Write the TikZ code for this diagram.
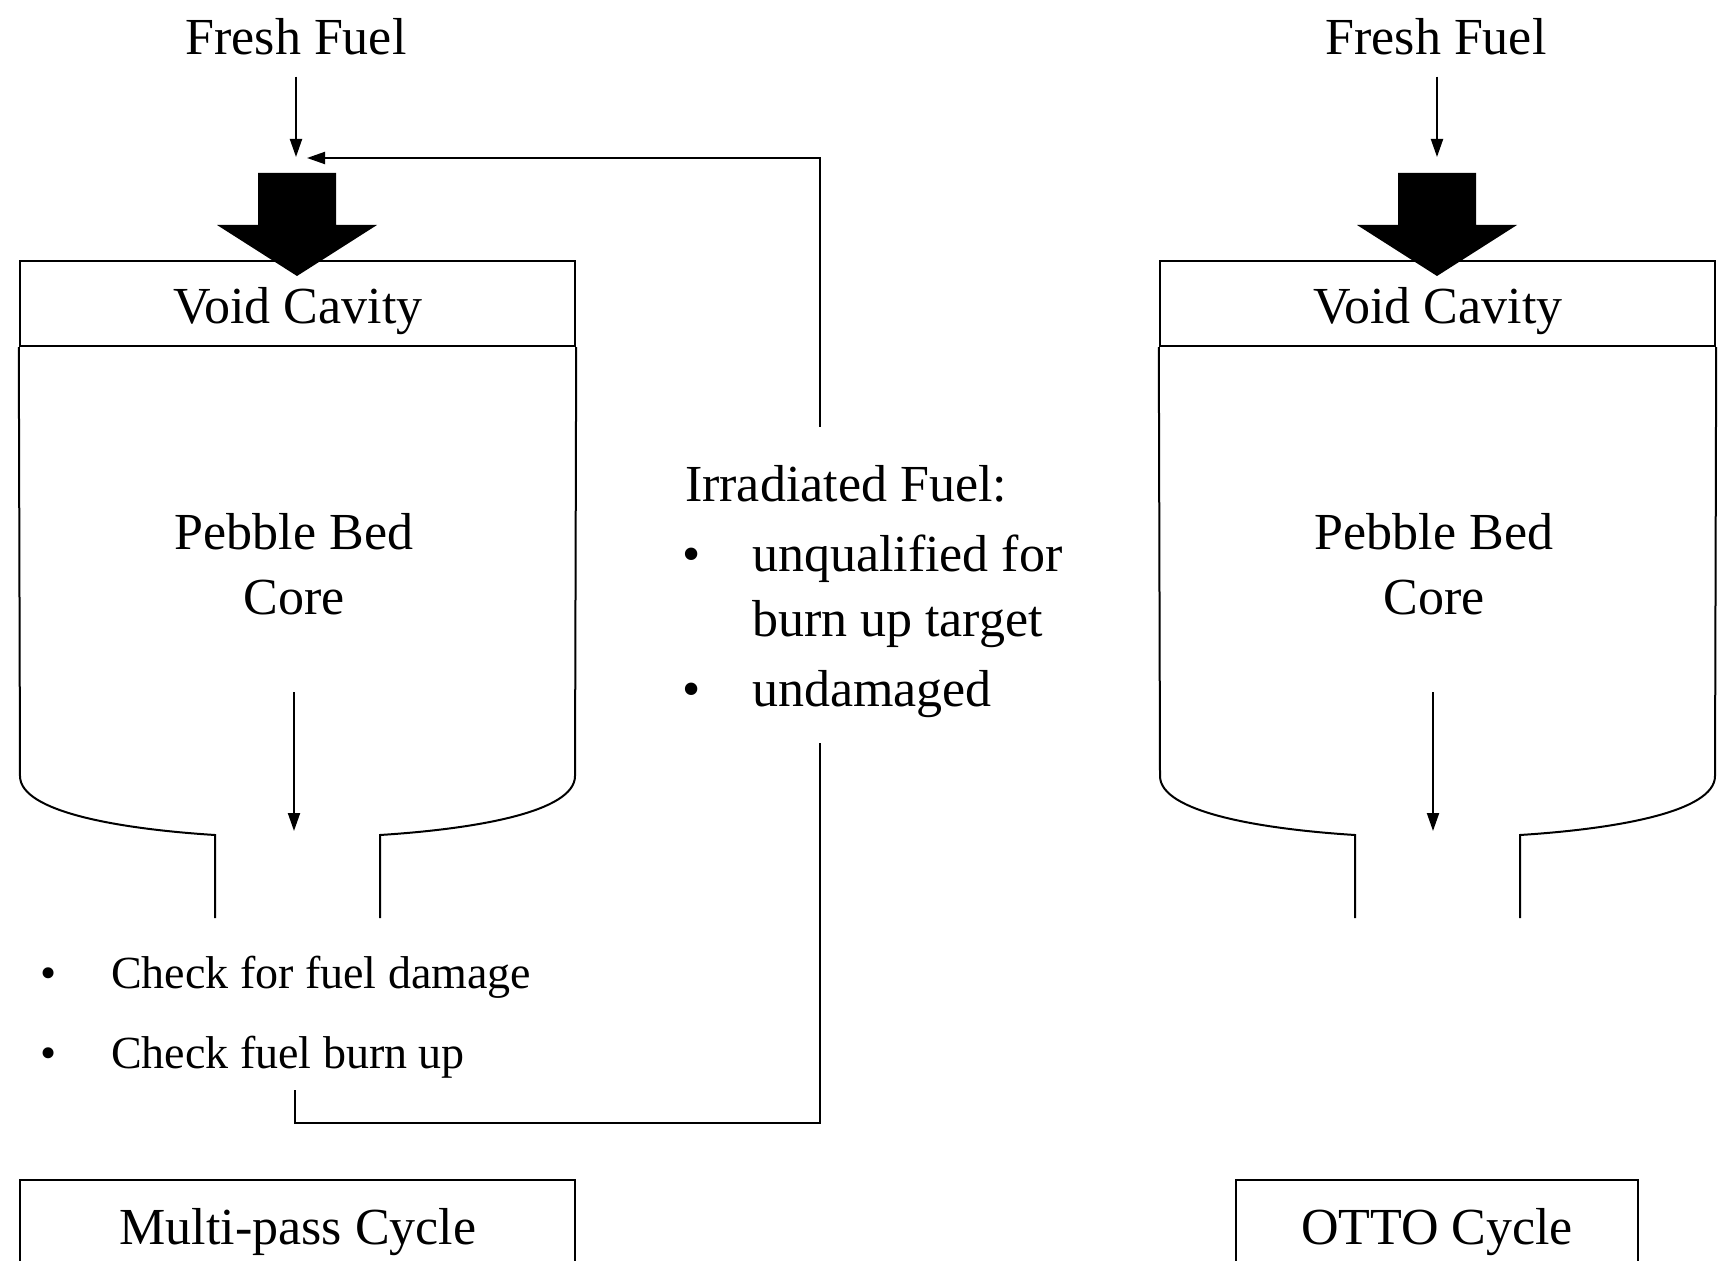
\documentclass[tikz,border=0pt]{standalone}
\usepackage{fontspec}
\setmainfont{Liberation Serif}
\usetikzlibrary{arrows.meta}
\begin{document}
\begin{tikzpicture}[x=0.5pt,y=-0.5pt, line width=1pt,
  lbl/.style={font=\fontsize{26}{30}\selectfont, inner sep=0pt, anchor=base},
  lblw/.style={font=\fontsize{26}{30}\selectfont, inner sep=0pt, anchor=base west},
  smallw/.style={font=\fontsize{23}{28}\selectfont, inner sep=0pt, anchor=base west},
  smallc/.style={font=\fontsize{23}{28}\selectfont, inner sep=0pt, anchor=base},
  arr/.style={-{Triangle[length=9pt,width=6pt]}},
  bigarrow/.style={fill=black, draw=none}]
\clip (0,0) rectangle (1718,1261);
\fill[white] (0,0) rectangle (1718,1261);

% ---------- Left: multi-pass ----------
\node[lbl] (ffL) at (296,55) {Fresh Fuel};
\coordinate (inL) at (296,157);
\draw[arr] (ffL.south) ++(0,20) -- (inL);

% void cavity box
\node[draw, line width=1.2pt, minimum width=277.5pt, minimum height=42.5pt, inner sep=0pt] (vcL) at (297.5,303.5) {};
\node[lbl] (vcLt) at (298,324) {Void Cavity};
% core vessel
\draw (vcL.south west) -- (20,776) .. controls (20,812) and (120,829) .. (215,835) -- (215,918);
\draw (vcL.south east) -- (575,776) .. controls (575,812) and (475,829) .. (380,835) -- (380,918);
\fill[bigarrow] (258,173) -- (336,173) -- (336,225) -- (377,225) -- (297,276) -- (217,225) -- (258,225) -- cycle;

\node[lbl] (pbL) at (294,550) {Pebble Bed};
\node[lbl] (coreL) at (294,614) {Core};
\coordinate (outL) at (294,831);
\draw[arr] (294,692) -- (outL);

% checks
\node[smallc] (b1) at (49,988) {•};
\node[smallw] (chk1) at (110,988) {Check for fuel damage};
\node[smallc] (b2) at (49,1068) {•};
\node[smallw] (chk2) at (110,1068) {Check fuel burn up};

% irradiated fuel
\node[lblw] (irr) at (684,502) {Irradiated Fuel:};
\node[lbl] (b3) at (692,572) {•};
\node[lblw] (irr1) at (751,572) {unqualified for};
\node[lblw] (irr2) at (751,636) {burn up target};
\node[lbl] (b4) at (692,706) {•};
\node[lblw] (irr3) at (751,706) {undamaged};

% return loop
\coordinate (loopA) at (295,1090);
\coordinate (loopB) at (820,743);
\coordinate (loopC) at (820,427);
\coordinate (retL) at (307,158);
\draw (loopA) |- (loopB |- 0,1123) -- (loopB);
\draw[arr] (loopC) |- (retL);

% multi-pass box
\node[lbl] (mpc) at (298,1244) {Multi-pass Cycle};
\draw (20,1275) -- (20,1180) -- (575,1180) -- (575,1275);

% ---------- Right: OTTO ----------
\node[lbl] (ffR) at (1436,55) {Fresh Fuel};
\coordinate (inR) at (1437,157);
\draw[arr] (ffR.south) ++(1,20) -- (inR);

\node[draw, line width=1.2pt, minimum width=277.5pt, minimum height=42.5pt, inner sep=0pt] (vcR) at (1437.5,303.5) {};
\node[lbl] (vcRt) at (1438,324) {Void Cavity};
\draw (vcR.south west) -- (1160,776) .. controls (1160,812) and (1260,829) .. (1355,835) -- (1355,918);
\draw (vcR.south east) -- (1715,776) .. controls (1715,812) and (1615,829) .. (1520,835) -- (1520,918);
\fill[bigarrow] (1398,173) -- (1476,173) -- (1476,225) -- (1517,225) -- (1437,276) -- (1357,225) -- (1398,225) -- cycle;

\node[lbl] (pbR) at (1434,550) {Pebble Bed};
\node[lbl] (coreR) at (1434,614) {Core};
\coordinate (outR) at (1433,831);
\draw[arr] (1433,692) -- (outR);

\node[lbl] (otto) at (1437,1244) {OTTO Cycle};
\draw (1236,1275) -- (1236,1180) -- (1638,1180) -- (1638,1275);
\end{tikzpicture}
\end{document}
